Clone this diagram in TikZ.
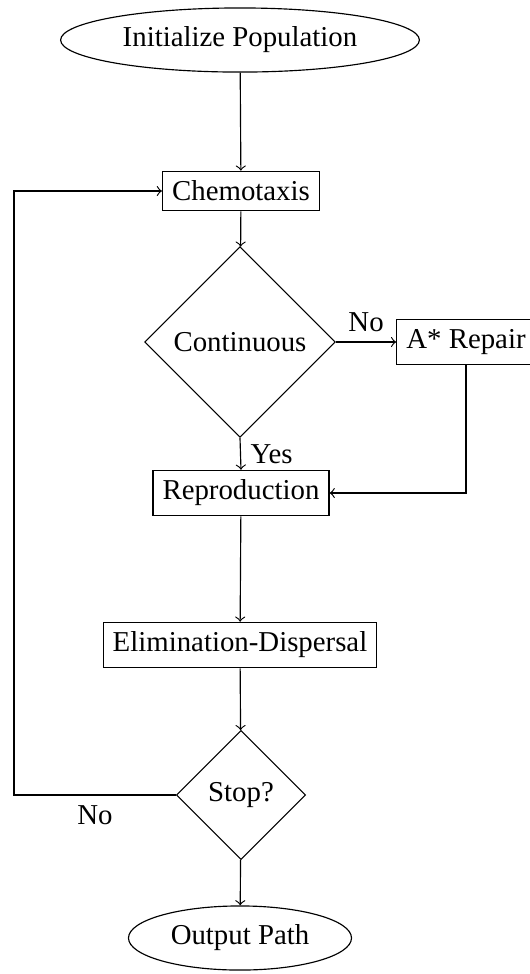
\documentclass[tikz,border=0pt]{standalone}
\usepackage{fontspec}
\setmainfont{Liberation Serif}
\usetikzlibrary{shapes.geometric}
\begin{document}
\begin{tikzpicture}[x=0.347pt,y=-0.347pt,
  every node/.style={font=\fontsize{10}{12}\selectfont},
  term/.style={draw,ellipse},
  proc/.style={draw,rectangle},
  dec/.style={draw,diamond,aspect=1},
  conn/.style={->}]
\useasboundingbox (0,0) rectangle (530,974);
\node[term] (init) at (240,40) {Initialize Population};
\node[proc] (chemo) at (241,191) {Chemotaxis};
\node[dec] (cont) at (240,342) {Continuous};
\node[proc] (repair) at (466,342) {A* Repair};
\node[proc] (repro) at (241,493) {Reproduction};
\node[proc] (elim) at (240,645) {Elimination-Dispersal};
\node[dec] (stop) at (241,795) {Stop?};
\node[term] (out) at (240,938) {Output Path};
\coordinate (loop) at (14,795);
\draw[conn] (init) -- (chemo);
\draw[conn] (chemo) -- (cont);
\draw[conn] (cont.east) -- node[above] {No} (repair.west);
\draw[conn] (cont.south) -- node[right] {Yes} (repro.north);
\draw[conn] (repair.south) |- (repro.east);
\draw[conn] (repro) -- (elim);
\draw[conn] (elim) -- (stop);
\draw[conn] (stop) -- (out);
\draw[conn] (stop.west) -- node[below] {No} (loop) |- (chemo.west);
\end{tikzpicture}
\end{document}
